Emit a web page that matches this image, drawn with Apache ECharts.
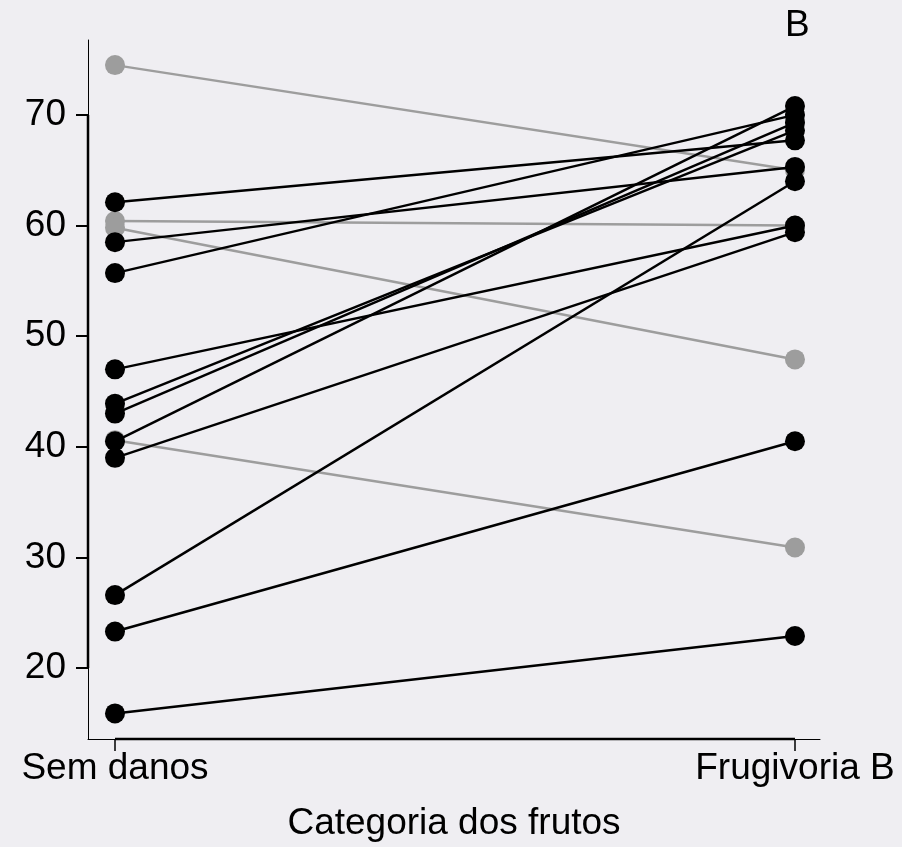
<!DOCTYPE html>
<html>
<head>
<meta charset="utf-8">
<script src="https://cdn.jsdelivr.net/npm/echarts@6/dist/echarts.min.js"></script>
<style>
html,body{margin:0;padding:0;background:#efeef2;}
#c{width:902px;height:847px;}
</style>
</head>
<body>
<div id="c"></div>
<script>
// Categories on the x axis
var categories = ['Sem danos', 'Frugivoria B'];
// Y-axis tick labels
var yTicks = [20, 30, 40, 50, 60, 70];
// Paired values (gray = decreased, black = increased)
var grayBefore  = [74.5, 60.4, 59.8, 40.6];
var grayAfter   = [65.0, 60.0, 47.9, 30.9];
var blackBefore = [62.1, 58.5, 55.7, 47.0, 43.9, 43.0, 40.5, 39.0, 26.6, 23.3, 15.9];
var blackAfter  = [67.7, 65.3, 70.0, 60.0, 68.6, 69.3, 70.8, 59.4, 64.0, 40.5, 22.9];
var panelLabel = 'B';
var xTitle = 'Categoria dos frutos';

var FONT = "'Liberation Sans', Arial, Helvetica, sans-serif";
var FS = 37;
var X_MIN = -0.0397, X_MAX = 1.0368;
var Y_MIN = 13.59, Y_MAX = 76.77;

function pairSeries(before, after, color, z) {
  return before.map(function (b, i) {
    return {
      type: 'line',
      data: [[0, b], [1, after[i]]],
      symbol: 'circle',
      symbolSize: 20,
      lineStyle: { color: color, width: 2.5 },
      itemStyle: { color: color },
      z: z,
      silent: true,
      animation: false
    };
  });
}

var series = []
  .concat(pairSeries(grayBefore, grayAfter, '#9d9d9d', 2))
  .concat(pairSeries(blackBefore, blackAfter, '#000000', 3));

// thicker axis segments spanning tick range (as in R's axis())
series.push({
  type: 'line', data: [[X_MIN, yTicks[0]], [X_MIN, yTicks[yTicks.length - 1]]],
  symbol: 'none', clip: false, silent: true, animation: false, z: 5,
  lineStyle: { color: '#000', width: 2.5 }
});
series.push({
  type: 'line', data: [[0, Y_MIN], [1, Y_MIN]],
  symbol: 'none', clip: false, silent: true, animation: false, z: 5,
  lineStyle: { color: '#000', width: 2.5 }
});

var chart = echarts.init(document.getElementById('c'), null, { renderer: 'canvas' });
chart.setOption({
  backgroundColor: '#efeef2',
  animation: false,
  title: {
    text: panelLabel,
    left: 780, top: 2,
    textStyle: { fontFamily: FONT, fontSize: FS, fontWeight: 'normal', color: '#000' }
  },
  grid: { left: 88, right: 82, top: 40, bottom: 107, containLabel: false },
  xAxis: {
    type: 'value',
    min: X_MIN, max: X_MAX,
    name: xTitle,
    nameLocation: 'middle',
    nameGap: 66,
    nameTextStyle: { fontFamily: FONT, fontSize: FS, color: '#000', verticalAlign: 'top' },
    axisLine: { show: true, onZero: false, lineStyle: { color: '#000', width: 1 } },
    axisTick: { show: true, length: 12, customValues: [0, 1], lineStyle: { color: '#000', width: 1.5 } },
    axisLabel: {
      show: true, customValues: [0, 1], margin: 11,
      fontFamily: FONT, fontSize: FS, color: '#000',
      formatter: function (v) { return categories[Math.round(v)]; }
    },
    splitLine: { show: false }
  },
  yAxis: {
    type: 'value',
    min: Y_MIN, max: Y_MAX,
    axisLine: { show: true, onZero: false, lineStyle: { color: '#000', width: 1 } },
    axisTick: { show: true, length: 12, customValues: yTicks, lineStyle: { color: '#000', width: 2 } },
    axisLabel: {
      show: true, customValues: yTicks, margin: 22,
      fontFamily: FONT, fontSize: FS, color: '#000'
    },
    splitLine: { show: false }
  },
  series: series
});
</script>
</body>
</html>
